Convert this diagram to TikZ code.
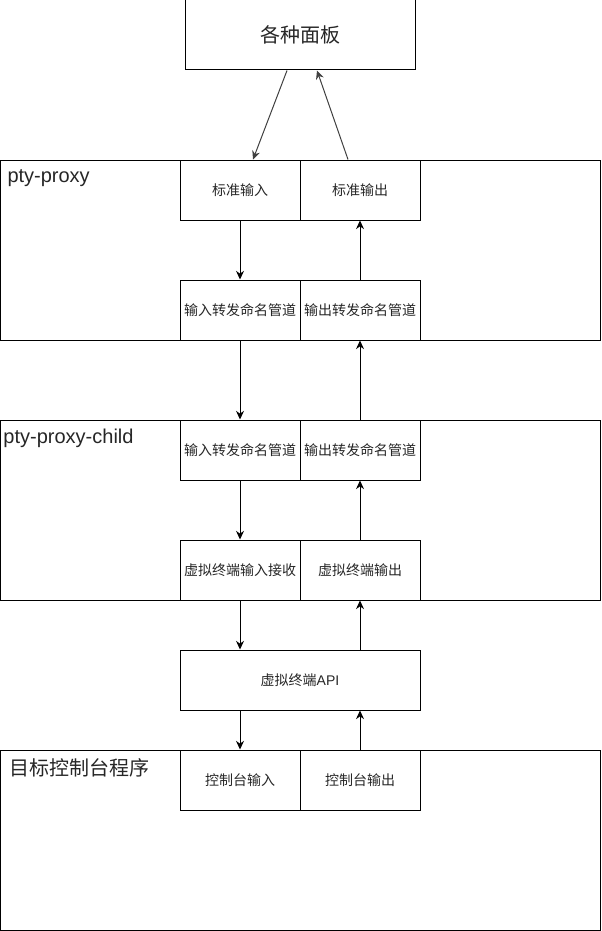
\documentclass[tikz,border=0pt]{standalone}
\usepackage{fontspec}
\setmainfont{Liberation Sans}
\newfontfamily\cjk{Noto Sans CJK SC}
\usetikzlibrary{arrows.meta,calc,positioning}

\tikzset{
    box/.style={draw, inner sep=0pt, minimum width=90pt, minimum height=45pt,
        text=black!85, font=\cjk\fontsize{10.5}{12}\selectfont},
    group/.style={draw, inner sep=0pt, minimum width=450pt, minimum height=135pt},
    grouplabel/.style={anchor=west, inner sep=0pt, text=black!85},
    flow/.style={-{Stealth[length=6.5pt,width=6pt]}},
}

\begin{document}
\begin{tikzpicture}[x=0.75pt, y=-0.75pt, line width=0.75pt]
    \useasboundingbox (0,0) rectangle (601,931);

    % containers
    \node[group] (proxy) at (300,250) {};
    \node[group] (child) at (300,510) {};
    \node[group] (target) at (300,840) {};
    \node[grouplabel, font=\fontsize{15}{17}\selectfont] (proxylbl) at (7,178) {pty-proxy};
    \node[grouplabel, font=\fontsize{15}{17}\selectfont] (childlbl) at (3,438) {pty-proxy-child};
    \node[grouplabel, font=\cjk\fontsize{15}{17}\selectfont] (targetlbl) at (9,768) {目标控制台程序};

    % top
    \node[box, minimum width=172.5pt, minimum height=52.5pt, font=\cjk\fontsize{15}{17}\selectfont] (panel) at (300,35) {各种面板};

    % pty-proxy
    \node[box] (stdin) at (240,190) {标准输入};
    \node[box] (stdout) at (360,190) {标准输出};
    \node[box] (pin) at (240,310) {输入转发命名管道};
    \node[box] (pout) at (360,310) {输出转发命名管道};

    % pty-proxy-child
    \node[box] (cin) at (240,450) {输入转发命名管道};
    \node[box] (cout) at (360,450) {输出转发命名管道};
    \node[box] (vin) at (240,570) {虚拟终端输入接收};
    \node[box] (vout) at (360,570) {虚拟终端输出};

    \node[box, minimum width=180pt] (api) at (300,680) {虚拟终端{\fontspec{Liberation Sans}API}};

    % target
    \node[box] (conin) at (240,780) {控制台输入};
    \node[box] (conout) at (360,780) {控制台输出};

    % arrows
    \draw[flow, black!75] ($(panel.south)+(-13,0)$) -- ($(stdin.north)+(13,0)$);
    \draw[flow, black!75] ($(stdout.north)+(-12,0)$) -- ($(panel.south)+(17,0)$);

    \draw[flow] (stdin) -- (pin);
    \draw[flow] (pout) -- (stdout);
    \draw[flow] (pin) -- (cin);
    \draw[flow] (cout) -- (pout);
    \draw[flow] (cin) -- (vin);
    \draw[flow] (vout) -- (cout);
    \draw[flow] (vin) -- (vin |- api.north);
    \draw[flow] (vout |- api.north) -- (vout);
    \draw[flow] (conin |- api.south) -- (conin);
    \draw[flow] (conout) -- (conout |- api.south);
\end{tikzpicture}
\end{document}
